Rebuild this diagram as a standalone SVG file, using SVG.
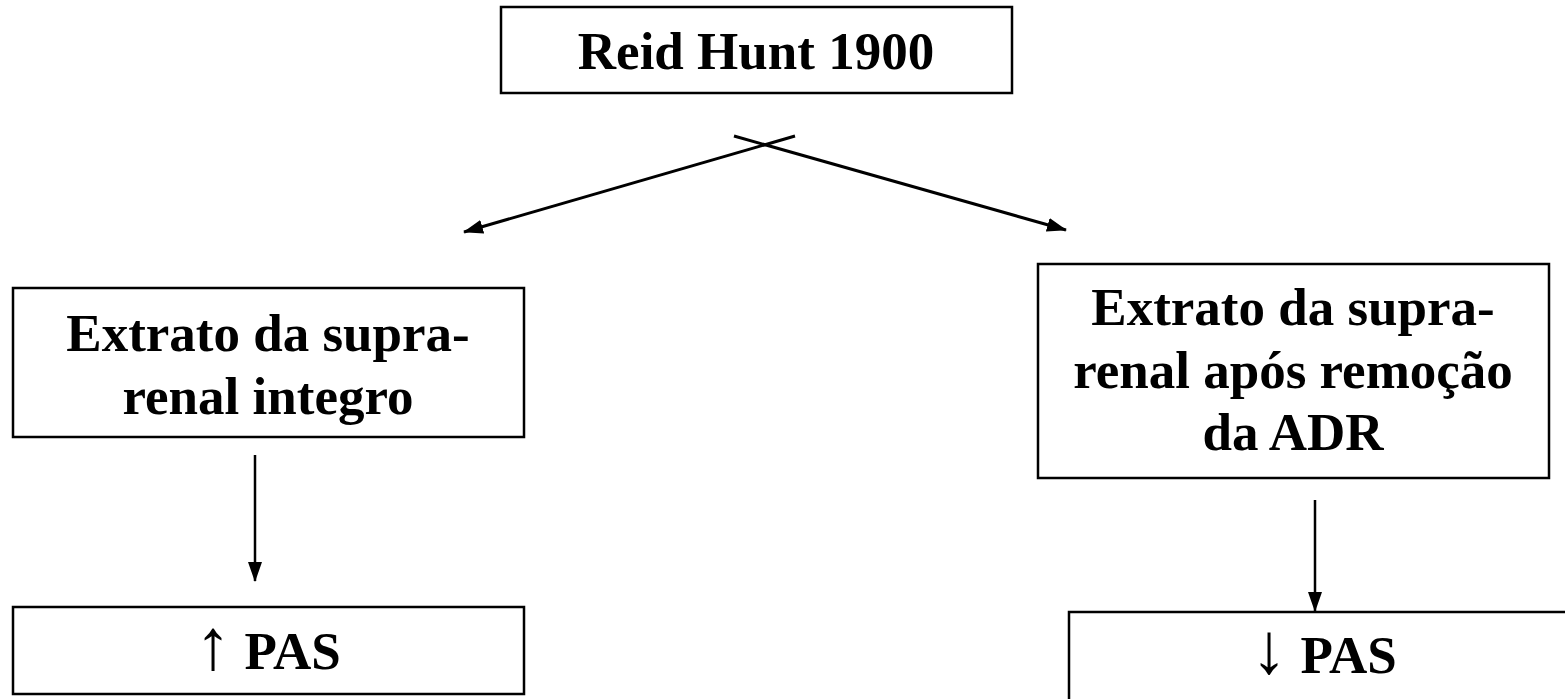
<svg xmlns="http://www.w3.org/2000/svg" width="1565" height="699" viewBox="0 0 1565 699">
  <style>
    .box { fill: #ffffff; stroke: #000000; stroke-width: 2.5; }
    .lbl { font-family: "Liberation Serif", "Times New Roman", serif; font-size: 53px; font-weight: bold; fill: #000000; text-anchor: middle; }
    .sym { font-weight: normal; font-size: 72px; }
    .conn { stroke: #000000; stroke-width: 3; fill: none; }
    .vconn { stroke: #000000; stroke-width: 2.5; fill: none; }
  </style>
  <defs>
    <marker id="ah" viewBox="0 0 20 14" refX="19" refY="7" markerWidth="20" markerHeight="14" markerUnits="userSpaceOnUse" orient="auto">
      <path d="M0,0 L20,7 L0,14 z" fill="#000000"/>
    </marker>
  </defs>
  <rect width="1565" height="699" fill="#ffffff"/>

  <g id="connectors">
    <line class="conn" x1="795" y1="136" x2="464" y2="232" marker-end="url(#ah)"/>
    <line class="conn" x1="734" y1="136" x2="1066" y2="230" marker-end="url(#ah)"/>
    <line class="vconn" x1="255" y1="455" x2="255" y2="581" marker-end="url(#ah)"/>
    <line class="vconn" x1="1315" y1="500" x2="1315" y2="611" marker-end="url(#ah)"/>
  </g>

  <g id="node-reid-hunt">
    <rect class="box" x="501" y="7" width="511" height="86"/>
    <text class="lbl" x="756" y="69">Reid Hunt 1900</text>
  </g>

  <g id="node-extrato-integro">
    <rect class="box" x="13" y="288" width="511" height="149"/>
    <text class="lbl" x="268" y="351">Extrato da supra-</text>
    <text class="lbl" x="268" y="414">renal integro</text>
  </g>

  <g id="node-extrato-adr">
    <rect class="box" x="1038" y="264" width="511" height="214"/>
    <text class="lbl" x="1293" y="325">Extrato da supra-</text>
    <text class="lbl" x="1293" y="388">renal após remoção</text>
    <text class="lbl" x="1293" y="450">da ADR</text>
  </g>

  <g id="node-pas-up">
    <rect class="box" x="13" y="607" width="511" height="87"/>
    <text class="lbl" x="268" y="669"><tspan class="sym">↑</tspan> PAS</text>
  </g>

  <g id="node-pas-down">
    <rect class="box" x="1069" y="612" width="520" height="120"/>
    <text class="lbl" x="1324" y="673"><tspan class="sym">↓</tspan> PAS</text>
  </g>
</svg>
